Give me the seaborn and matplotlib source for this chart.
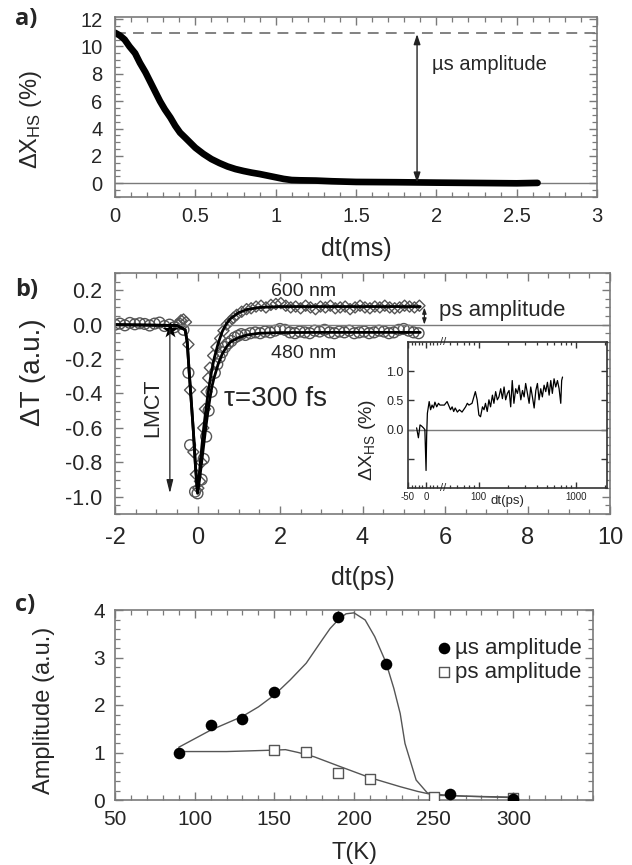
import numpy as np
import pandas as pd
import seaborn as sns
import matplotlib.pyplot as plt
from matplotlib.ticker import MultipleLocator, FixedLocator, NullFormatter

# a) spin-state relaxation on the ms scale
t_ms = [0.0, 0.03, 0.06, 0.09, 0.125, 0.155, 0.19, 0.22, 0.25, 0.28, 0.31, 0.345, 0.375,
        0.405, 0.44, 0.47, 0.5, 0.55, 0.6, 0.65, 0.7, 0.75, 0.8, 0.85, 0.9, 0.95, 1.0,
        1.05, 1.1, 1.15, 1.25, 1.35, 1.5, 1.75, 2.0, 2.3, 2.5, 2.63]
dx_ms = [11.0, 10.8, 10.5, 10.0, 9.5, 8.8, 8.1, 7.4, 6.7, 6.0, 5.4, 4.8, 4.2,
         3.7, 3.3, 2.95, 2.6, 2.15, 1.77, 1.48, 1.23, 1.04, 0.9, 0.78, 0.68, 0.56, 0.44,
         0.32, 0.24, 0.22, 0.2, 0.15, 0.1, 0.08, 0.05, 0.02, 0.0, 0.03]
us_level = 10.95

# b) transient transmission, 480 nm (circles) and 600 nm (diamonds)
t480 = [-2.0, -1.88, -1.76, -1.64, -1.52, -1.4, -1.28, -1.16, -1.04, -0.92, -0.8, -0.68, -0.56, -0.44,
        -0.34, -0.22, -0.18, -0.06, 0.0,
        0.1, 0.15, 0.21, 0.27, 0.34, 0.42, 0.48, 0.54, 0.6, 0.67, 0.74, 0.82, 0.9, 0.98, 1.06, 1.16,
        1.28, 1.4, 1.52, 1.64, 1.76, 1.88, 2.0, 2.12, 2.24, 2.36, 2.48, 2.6, 2.72, 2.84, 2.96, 3.08,
        3.2, 3.32, 3.44, 3.56, 3.68, 3.8, 3.92, 4.04, 4.16, 4.28, 4.4, 4.52, 4.64, 4.76, 4.88, 5.0,
        5.12, 5.24, 5.36]
dt480 = [0.0, 0.006, -0.004, 0.01, 0.002, 0.008, 0.004, -0.005, 0.006, 0.012, -0.008, 0.0, -0.015, 0.004,
         -0.03, -0.28, -0.70, -0.97, -0.98,
         -0.9, -0.78, -0.65, -0.5, -0.39, -0.28, -0.23, -0.19, -0.16, -0.13, -0.11, -0.095, -0.075,
         -0.065, -0.055, -0.06,
         -0.05, -0.045, -0.05, -0.04, -0.045, -0.035, -0.025, -0.03, -0.045, -0.05, -0.04, -0.045,
         -0.05, -0.035, -0.04, -0.03, -0.045, -0.05, -0.04, -0.045, -0.035, -0.05, -0.045, -0.04,
         -0.05, -0.045, -0.035, -0.04, -0.05, -0.045, -0.03, -0.025, -0.035, -0.045, -0.05]
t600 = [-0.46, -0.4, -0.34, -0.28, -0.22, -0.18, -0.1, -0.04, 0.02, 0.06, 0.1, 0.14, 0.18, 0.22,
        0.26, 0.3, 0.38, 0.46, 0.55, 0.63, 0.71, 0.79, 0.87, 0.95, 1.07, 1.19, 1.3,
        1.42, 1.54, 1.66, 1.78, 1.9, 2.02, 2.14, 2.26, 2.38, 2.5, 2.62, 2.74, 2.86, 2.98, 3.1,
        3.22, 3.34, 3.46, 3.58, 3.7, 3.82, 3.94, 4.06, 4.18, 4.3, 4.42, 4.54, 4.66, 4.78, 4.9,
        5.02, 5.14, 5.26, 5.38]
dt600 = [0.0, 0.025, 0.03, 0.015, -0.115, -0.38, -0.74, -0.87, -0.95, -0.91, -0.8, -0.6, -0.49, -0.39,
         -0.31, -0.25, -0.18, -0.13, -0.08, -0.035, 0.0, 0.02, 0.04, 0.057, 0.075, 0.09, 0.095,
         0.105, 0.11, 0.1, 0.115, 0.12, 0.125, 0.11, 0.1, 0.105, 0.095, 0.11, 0.1, 0.09, 0.105,
         0.1, 0.11, 0.095, 0.1, 0.105, 0.09, 0.1, 0.11, 0.1, 0.095, 0.105, 0.1, 0.11, 0.1, 0.095,
         0.1, 0.11, 0.105, 0.1, 0.11]
t_fit = [-2.0, -0.5, -0.3, -0.25, -0.2, -0.15, -0.1, -0.05, 0.0, 0.05, 0.1, 0.15, 0.2, 0.25, 0.3,
         0.35, 0.4, 0.5, 0.6, 0.7, 0.8, 1.0, 1.2, 1.5, 2.0, 3.0, 4.0, 5.4]
fit600 = [0.0, -0.005, -0.03, -0.1, -0.28, -0.45, -0.62, -0.82, -0.97, -0.85, -0.72, -0.6, -0.5, -0.41,
          -0.33, -0.26, -0.2, -0.11, -0.04, 0.005, 0.035, 0.07, 0.088, 0.1, 0.105, 0.105, 0.105, 0.105]
fit480 = [0.0, -0.005, -0.03, -0.1, -0.28, -0.45, -0.62, -0.82, -0.98, -0.9, -0.8, -0.7, -0.6, -0.51,
          -0.43, -0.36, -0.31, -0.23, -0.17, -0.13, -0.1, -0.075, -0.06, -0.05, -0.046, -0.045,
          -0.045, -0.045]
lmct_t, lmct_top, lmct_bottom = -0.67, -0.03, -0.98
ps_level = 0.1

# inset: high-spin fraction on the ps scale
t_ps = [-26, -21, -16.5, -12, -7, -3, 0.3, 2, 4, 9, 13, 17, 21, 25, 30, 35, 39, 44, 47, 51,
        53, 55, 57, 60, 63, 67, 73, 76, 79, 85, 92, 96, 100, 104, 109, 113, 117, 122, 127, 132,
        138, 143, 149, 155, 161, 168, 175, 182, 189, 197, 205, 213, 221, 230, 240, 250, 260, 271,
        282, 293, 304, 317, 330, 343, 357, 372, 387, 402, 418, 435, 452, 471, 490, 510, 531, 552,
        573, 597, 621, 647, 673, 700, 715, 730]
dx_ps = [0.03, -0.14, 0.08, 0.06, 0.03, 0.0, -0.70, -0.1, 0.28, 0.48, 0.34, 0.42, 0.37, 0.47, 0.39,
         0.45, 0.42, 0.42, 0.48, 0.34, 0.39, 0.31, 0.37, 0.30, 0.34, 0.30, 0.39, 0.45, 0.42, 0.45,
         0.65, 0.51, 0.25, 0.22, 0.39, 0.34, 0.45, 0.31, 0.51, 0.39, 0.59, 0.45, 0.65, 0.51, 0.56,
         0.70, 0.53, 0.73, 0.51, 0.62, 0.67, 0.39, 0.84, 0.45, 0.70, 0.62, 0.76, 0.51, 0.67, 0.56,
         0.79, 0.62, 0.45, 0.73, 0.56, 0.37, 0.67, 0.79, 0.51, 0.70, 0.56, 0.76, 0.65, 0.81, 0.59,
         0.84, 0.62, 0.87, 0.73, 0.84, 0.70, 0.45, 0.84, 0.90]

# c) amplitudes vs temperature
temp_us = [90, 110, 130, 150, 190, 220, 260, 300]
amp_us = [1.0, 1.57, 1.71, 2.28, 3.86, 2.86, 0.13, 0.02]
temp_ps = [150, 170, 190, 210, 250, 300]
amp_ps = [1.05, 1.01, 0.56, 0.44, 0.07, 0.04]
fit_us_T = [90, 110, 130, 140, 150, 160, 170, 180, 185, 190, 195, 200, 207, 213, 220, 225, 229,
            232, 239, 246, 255, 270, 300]
fit_us = [1.11, 1.47, 1.76, 1.96, 2.21, 2.53, 2.88, 3.37, 3.61, 3.79, 3.92, 3.94, 3.79, 3.44, 2.9,
          2.35, 1.82, 1.19, 0.42, 0.15, 0.11, 0.08, 0.05]
fit_ps_T = [90, 120, 150, 157, 165, 175, 190, 210, 229, 240, 251, 270, 300]
fit_ps = [1.02, 1.02, 1.05, 1.06, 1.0, 0.91, 0.72, 0.47, 0.28, 0.18, 0.1, 0.08, 0.06]

sns.set_style('ticks')
plt.rcParams['font.family'] = ['Liberation Sans', 'DejaVu Sans']
plt.rcParams['axes.unicode_minus'] = False
plt.rcParams['mathtext.default'] = 'regular'

FRAME = '#7a7a7a'


def frame(ax, color=FRAME, major=6, minor=3.5):
    for s in ax.spines.values():
        s.set_visible(True)
        s.set_color(color)
        s.set_linewidth(1.2)
    ax.tick_params(which='both', direction='in', top=True, right=True, color=color)
    ax.tick_params(which='major', length=major, width=1)
    ax.tick_params(which='minor', length=minor, width=0.9)


fig = plt.figure(figsize=(6.32, 8.65), dpi=100)

# ---------------- panel a
ax_a = fig.add_axes([115 / 632, 1 - 197 / 865, 482 / 632, 180 / 865])
ax_a.axhline(0, color=FRAME, lw=1)
ax_a.axhline(us_level, color='#777777', lw=1.3, ls=(0, (6, 4)))
sns.lineplot(x=t_ms, y=dx_ms, ax=ax_a, color='black', lw=4.8, estimator=None, sort=False)
ax_a.annotate('', xy=(1.88, 0.05), xytext=(1.88, us_level - 0.05),
              arrowprops=dict(arrowstyle='<|-|>,head_width=0.2,head_length=0.6',
                              color='#222222', lw=1, shrinkA=0, shrinkB=0))
ax_a.text(1.97, 8.7, 'µs amplitude', fontsize=14.5, va='center')
ax_a.set_xlim(0, 3)
ax_a.set_ylim(-1, 12.15)
ax_a.xaxis.set_major_locator(MultipleLocator(0.5))
ax_a.xaxis.set_minor_locator(MultipleLocator(0.1))
ax_a.yaxis.set_major_locator(MultipleLocator(2))
ax_a.yaxis.set_minor_locator(MultipleLocator(0.5))
ax_a.xaxis.set_major_formatter(lambda v, p: f'{v:g}')
frame(ax_a)
ax_a.tick_params(labelsize=14.5)
ax_a.tick_params(axis='x', pad=7)
ax_a.tick_params(axis='y', pad=9)
ax_a.set_xlabel('dt(ms)', fontsize=18)
ax_a.set_ylabel('ΔX$_{HS}$ (%)', fontsize=17)
ax_a.xaxis.set_label_coords(0.5, -0.22)
ax_a.yaxis.set_label_coords(-0.148, 0.43)

# ---------------- panel b
ax_b = fig.add_axes([115 / 632, 1 - 514 / 865, 495 / 632, 241 / 865])
ax_b.axhline(0, color=FRAME, lw=1)
sns.lineplot(x=t_fit, y=fit600, ax=ax_b, color='black', lw=2, estimator=None, sort=False)
sns.lineplot(x=t_fit, y=fit480, ax=ax_b, color='black', lw=2, estimator=None, sort=False)
sns.scatterplot(x=t480, y=dt480, ax=ax_b, marker='o', s=60, facecolor='none',
                edgecolor='#555555', linewidth=1)
sns.scatterplot(x=t600, y=dt600, ax=ax_b, marker='D', s=32, facecolor='none',
                edgecolor='#555555', linewidth=1)
ax_b.annotate('', xy=(lmct_t, lmct_bottom), xytext=(lmct_t, lmct_top),
              arrowprops=dict(arrowstyle='-|>,head_width=0.2,head_length=0.8',
                              color='#222222', lw=0.9, shrinkA=0, shrinkB=0))
sns.scatterplot(x=[lmct_t], y=[lmct_top], ax=ax_b, marker='*', s=150, color='black', linewidth=0)
ax_b.annotate('', xy=(5.5, 0.0), xytext=(5.5, ps_level),
              arrowprops=dict(arrowstyle='<|-|>,head_width=0.12,head_length=0.35',
                              color='#222222', lw=0.9, shrinkA=0, shrinkB=0))
ax_b.text(5.85, 0.085, 'ps amplitude', fontsize=16, va='center')
ax_b.text(2.58, 0.19, '600 nm', fontsize=14, ha='center', va='center')
ax_b.text(2.58, -0.165, '480 nm', fontsize=14, ha='center', va='center')
ax_b.text(0.64, -0.43, 'τ=300 fs', fontsize=20, va='center')
ax_b.text(-1.08, -0.48, 'LMCT', fontsize=15.5, rotation=90, ha='center', va='center')
ax_b.set_xlim(-2, 10)
ax_b.set_ylim(-1.1, 0.3)
ax_b.xaxis.set_major_locator(MultipleLocator(2))
ax_b.xaxis.set_minor_locator(MultipleLocator(0.5))
ax_b.yaxis.set_major_locator(MultipleLocator(0.2))
ax_b.yaxis.set_minor_locator(MultipleLocator(0.05))
ax_b.yaxis.set_major_formatter(lambda v, p: f'{v:.1f}')
frame(ax_b)
ax_b.tick_params(axis='x', labelsize=17, pad=9)
ax_b.tick_params(axis='y', labelsize=15.5, pad=9)
ax_b.set_xlabel('dt(ps)', fontsize=18)
ax_b.set_ylabel('ΔT (a.u.)', fontsize=20)
ax_b.xaxis.set_label_coords(0.5, -0.215)
ax_b.yaxis.set_label_coords(-0.14, 0.59)

# ---------------- inset (broken axis: linear up to 40 ps, then log)
def fwd(x):
    x = np.asarray(x, dtype=float)
    return np.where(x <= 40, (x + 50) * 0.0018,
                    0.162 + 0.486 * np.log10(np.clip(x, 40, None) / 40))


def inv(u):
    u = np.asarray(u, dtype=float)
    return np.where(u <= 0.162, u / 0.0018 - 50,
                    40 * 10 ** ((np.clip(u, 0.162, None) - 0.162) / 0.486))


ax_i = fig.add_axes([408 / 632, 1 - 488 / 865, 199 / 632, 146 / 865])
ax_i.set_xscale('function', functions=(fwd, inv))
ax_i.axhline(0, color=FRAME, lw=1)
sns.lineplot(x=t_ps, y=dx_ps, ax=ax_i, color='black', lw=0.9, estimator=None, sort=False)
ax_i.set_xlim(-50, 2100)
ax_i.set_ylim(-1.0, 1.5)
ax_i.xaxis.set_major_locator(FixedLocator([-50, 0, 100, 1000]))
ax_i.xaxis.set_minor_locator(FixedLocator([-40, -30, -20, -10, 10, 20, 30, 50, 60, 70, 80, 90,
                                           200, 300, 400, 500, 600, 700, 800, 900, 2000]))
ax_i.xaxis.set_major_formatter(lambda v, p: f'{v:g}')
ax_i.xaxis.set_minor_formatter(NullFormatter())
ax_i.yaxis.set_major_locator(FixedLocator([-0.5, 0.0, 0.5, 1.0]))
ax_i.yaxis.set_major_formatter(lambda v, p: '' if v < 0 else f'{v:.1f}')
frame(ax_i, color='#333333', major=4, minor=2.5)
ax_i.tick_params(axis='x', labelsize=7, pad=3)
ax_i.tick_params(axis='y', labelsize=9, pad=3)
for yy in (0, 1):
    ax_i.text(0.175, yy, '//', transform=ax_i.transAxes, fontsize=8, ha='center', va='center')
ax_i.set_xlabel('dt(ps)', fontsize=9.5)
ax_i.set_ylabel('ΔX$_{HS}$ (%)', fontsize=14)
ax_i.xaxis.set_label_coords(0.5, -0.05)
ax_i.yaxis.set_label_coords(-0.15, 0.33)

# ---------------- panel c
ax_c = fig.add_axes([115 / 632, 1 - 800 / 865, 478 / 632, 190 / 865])
sns.lineplot(x=fit_us_T, y=fit_us, ax=ax_c, color='#555555', lw=1, estimator=None, sort=False)
sns.lineplot(x=fit_ps_T, y=fit_ps, ax=ax_c, color='#555555', lw=1, estimator=None, sort=False)
sns.scatterplot(x=temp_us, y=amp_us, ax=ax_c, marker='o', s=70, color='black', linewidth=0,
                label='µs amplitude', zorder=4)
sns.scatterplot(x=temp_ps, y=amp_ps, ax=ax_c, marker='s', s=60, facecolor='white',
                edgecolor='#555555', linewidth=1, label='ps amplitude', zorder=3)
ax_c.legend(loc='upper right', bbox_to_anchor=(0.995, 0.9), frameon=False, fontsize=16,
            handletextpad=-0.1, handlelength=1.2, labelspacing=0.15, borderaxespad=0)
ax_c.set_xlim(50, 350)
ax_c.set_ylim(0, 4)
ax_c.xaxis.set_major_locator(FixedLocator([50, 100, 150, 200, 250, 300]))
ax_c.xaxis.set_minor_locator(MultipleLocator(10))
ax_c.yaxis.set_major_locator(MultipleLocator(1))
ax_c.yaxis.set_minor_locator(MultipleLocator(0.2))
frame(ax_c)
ax_c.tick_params(labelsize=15, pad=7)
ax_c.set_xlabel('T(K)', fontsize=17)
ax_c.set_ylabel('Amplitude (a.u.)', fontsize=17)
ax_c.xaxis.set_label_coords(0.5, -0.22)
ax_c.yaxis.set_label_coords(-0.125, 0.47)

# panel letters
for y_px, letter in [(19, 'a)'), (290, 'b)'), (605, 'c)')]:
    fig.text(15 / 632, 1 - y_px / 865, letter, fontsize=17, fontweight='bold',
             ha='left', va='center', family=['Open Sans', 'DejaVu Sans'])

fig.savefig('out.png', dpi=100)
